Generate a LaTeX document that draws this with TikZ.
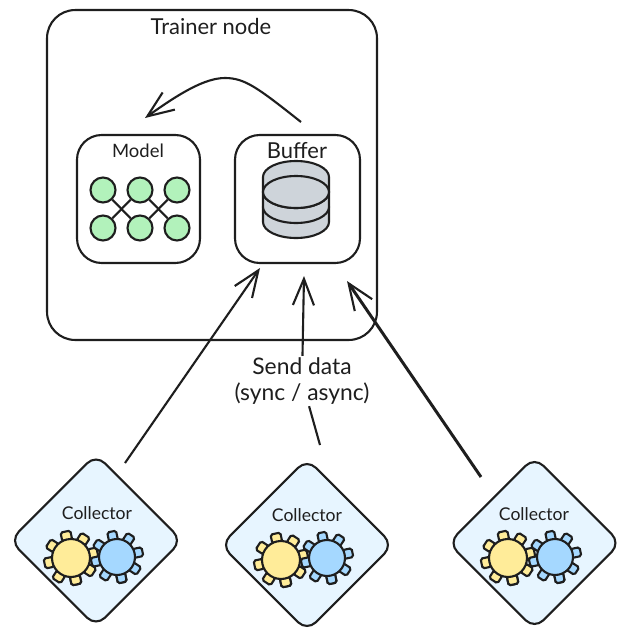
\documentclass[tikz,border=0pt]{standalone}
\usepackage{fontspec}
\setmainfont{Lato}
\usetikzlibrary{arrows.meta,positioning,calc,shapes.geometric}
\definecolor{netgreen}{HTML}{B2F2BB}
\definecolor{dbgray}{HTML}{CED4DA}
\definecolor{gearyellow}{HTML}{FFEC99}
\definecolor{gearblue}{HTML}{A5D8FF}
\definecolor{collblue}{HTML}{E7F5FF}
\definecolor{inkline}{HTML}{1E1E1E}
\tikzset{
  ink/.style={draw=inkline,line width=1.2pt},
  boxnode/.style={ink,rectangle,rounded corners=14pt,inner sep=0pt},
  netnode/.style={ink,circle,fill=netgreen,minimum size=.5cm,inner sep=0pt},
  collnode/.style={ink,diamond,fill=collblue,rounded corners=7pt,minimum width=3.46cm,minimum height=3.46cm,inner sep=0pt},
  label/.style={inner sep=1pt,text=inkline},
  sendarrow/.style={ink,-{Straight Barb[length=15pt,width=12pt,line width=1.2pt]}},
}
\begin{document}
\begin{tikzpicture}[x=.02cm,y=-.02cm]
  \useasboundingbox (0,0) rectangle (630,640);

  %% trainer and its two boxes
  \node [boxnode,rounded corners=16pt,minimum width=6.6cm,minimum height=6.6cm] (trainer) at(212,175) {};
  \node [label,font=\fontsize{12.5}{15}\selectfont] (trainer_lbl) at(211,26) {Trainer node};
  \node [boxnode,minimum width=2.46cm,minimum height=2.56cm] (model) at(138.5,199) {};
  \node [boxnode,minimum width=2.5cm,minimum height=2.56cm] (buffer) at(297.5,199) {};
  \node [label,font=\fontsize{10.5}{13}\selectfont] (model_lbl) at(138,151) {Model};
  \node [label,font=\fontsize{12.5}{15}\selectfont] (buffer_lbl) at(297,151) {Buffer};

  %% network
  \foreach \a/\xa in {1/103,2/140,3/177} {
    \node [netnode] (net_up_\a) at(\xa,190) {};
    \node [netnode] (net_lo_\a) at(\xa,228) {};
  }
  \draw [ink] (net_up_1) -- (net_lo_2);
  \draw [ink] (net_up_2) -- (net_lo_1);
  \draw [ink] (net_up_2) -- (net_lo_3);
  \draw [ink] (net_up_3) -- (net_lo_2);

  %% database
  \foreach \yy in {222,207,192} {
    \draw [ink,fill=dbgray] (263,\yy-15) arc[start angle=180,end angle=360,x radius=33,y radius=16] -- (329,\yy) arc[start angle=0,end angle=180,x radius=33,y radius=16] -- cycle;
  }
  \draw [ink,fill=dbgray] (296,192) ellipse[x radius=33,y radius=16];

  %% collectors
  \foreach \a/\xa/\ya in {1/96/540.5,2/307/545,3/534.5/543} {
    \node [collnode] (coll_\a) at(\xa,\ya) {};
  }
  \foreach \a/\xa/\ya/\xb/\yb/\xc/\yc in {1/97/513/71/558/117/557,2/307/515/281/560/327/558,3/534/514/508/558/555/557} {
    \node [label,font=\fontsize{10}{12}\selectfont] (coll_lbl_\a) at(\xa,\ya) {Collector};
    \coordinate (gear_y_\a) at(\xb,\yb);
    \coordinate (gear_b_\a) at(\xc,\yc);
    \foreach \ang in {78,123,...,438} {
      \draw [ink,fill=gearyellow,rotate around={-\ang:(gear_y_\a)},rounded corners=1pt] ($(gear_y_\a)+(18,-5)$) rectangle ($(gear_y_\a)+(27,5)$);
    }
    \draw [ink,fill=gearyellow] (gear_y_\a) circle[radius=19];
    \foreach \ang in {78,123,...,438} {
      \draw [ink,fill=gearblue,rotate around={-\ang:(gear_b_\a)},rounded corners=1pt] ($(gear_b_\a)+(16,-4.5)$) rectangle ($(gear_b_\a)+(26,4.5)$);
    }
    \draw [ink,fill=gearblue] (gear_b_\a) circle[radius=18];
  }

  %% connectors
  \node [label,align=center,font=\fontsize{13}{14.5}\selectfont] (send_lbl) at(302,381) {Send data\\(sync / async)};
  \coordinate (tail_1) at(125,463);
  \coordinate (tail_2) at(320,445);
  \coordinate (tail_3) at(481,477);
  \coordinate (tip_1) at(260,268);
  \coordinate (tip_2) at(304,276);
  \coordinate (tip_3) at(347,281);
  \coordinate (curve_tail) at(301,122);
  \coordinate (curve_top) at(225,78);
  \coordinate (curve_tip) at(145,118);
  \draw [sendarrow] (tail_1) -- (tip_1);
  \draw [ink] (tail_2) -- (send_lbl);
  \draw [sendarrow] (send_lbl) -- (tip_2);
  \draw [sendarrow,line width=1.7pt] (tail_3) -- (tip_3);
  \draw [sendarrow] (curve_tail) .. controls (258,88) and (245,78) .. (curve_top) .. controls (205,78) and (180,93) .. (curve_tip);
\end{tikzpicture}
\end{document}
